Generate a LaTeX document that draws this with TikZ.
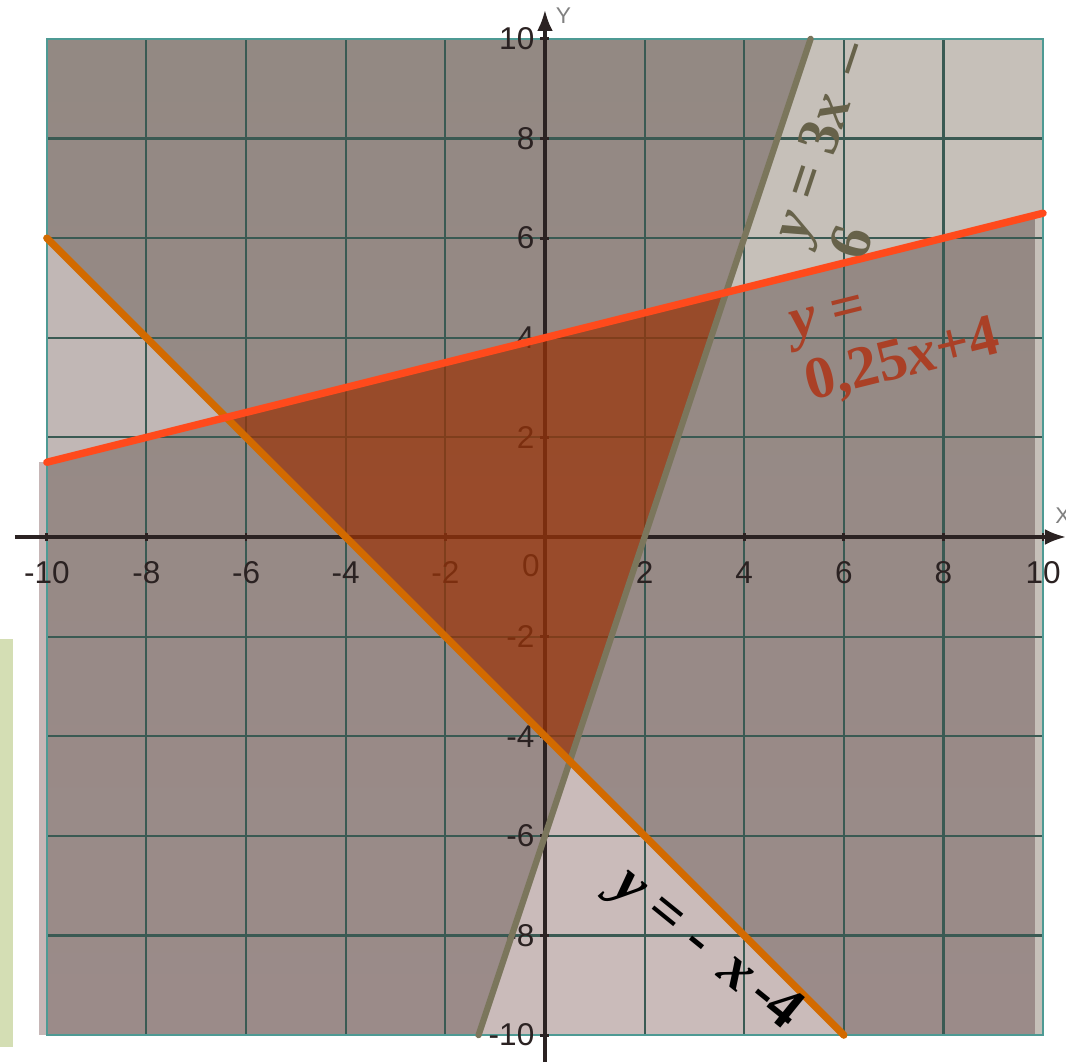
\documentclass[tikz,border=0pt]{standalone}
\usepackage{fontspec}
\setmainfont{Liberation Sans}
\newfontfamily\eqfont{Liberation Serif}
\usetikzlibrary{arrows.meta}
\definecolor{bgtop}{HTML}{938983}
\definecolor{bgbottom}{HTML}{9B8B89}
\definecolor{bglightA}{HTML}{C1B7B5}
\definecolor{bglightB}{HTML}{C6C0B9}
\definecolor{bglightC}{HTML}{CABBBA}
\definecolor{bgstrip}{HTML}{C6B6B6}
\definecolor{gridgreen}{HTML}{3A5A53}
\definecolor{bordercyan}{HTML}{4E9A94}
\definecolor{areared}{HTML}{9A3408}
\definecolor{redline}{HTML}{FF4A1C}
\definecolor{orangeline}{HTML}{D26A00}
\definecolor{grayline}{HTML}{7B765C}
\definecolor{graytext}{HTML}{67624A}
\definecolor{rusttext}{HTML}{AA4026}
\definecolor{ticktext}{HTML}{2B2222}
\definecolor{sidebar}{HTML}{D4DEB4}
\begin{document}
\begin{tikzpicture}[
  x=0.5cm, y=0.5cm,
  gridline/.style={draw=gridgreen, line width=0.6pt},
  ticklabel/.style={font=\fontsize{9}{10}\selectfont, text=ticktext, inner sep=0pt},
  axisname/.style={font=\fontsize{6.5}{7}\selectfont, text=gray, inner sep=0pt},
  eqlabel/.style={font=\eqfont\bfseries\fontsize{17}{18}\selectfont, align=left, inner sep=0pt},
  bound/.style={line width=#1, line cap=round},
  >={Latex[length=6pt,width=4.5pt]}
]
\useasboundingbox (-10.94,-10.56) rectangle (10.46,10.78);

% corners of the regions
\coordinate (RO) at (-6.4,2.4);
\coordinate (RG) at (40/11,54/11);
\coordinate (GO) at (0.5,-4.5);
\coordinate (Rstart) at (-10,1.5);
\coordinate (Rend) at (10,6.5);
\coordinate (Ostart) at (-10,6);
\coordinate (Oend) at (6,-10);
\coordinate (Gstart) at (-4/3,-10);
\coordinate (Gend) at (16/3,10);

% side bar and background
\fill[sidebar] (-10.94,-2.05) rectangle (-10.68,-10.24);
\shade[top color=bgtop, bottom color=bgbottom] (-10,-10) rectangle (10,10);
\fill[bgstrip] (-10.15,-10) rectangle (-10,1.5);
\fill[bglightA] (Rstart) -- (Ostart) -- (RO) -- cycle;
\fill[bglightB] (RG) -- (Gend) -- (10,10) -- (Rend) -- cycle;
\fill[bglightC] (GO) -- (Gstart) -- (Oend) -- cycle;
\fill[bglightB] (9.84,-10) rectangle (10,6.5);

% grid
\foreach \v in {-10,-8,...,10} {
  \draw[gridline] (\v,-10) -- (\v,10);
  \draw[gridline] (-10,\v) -- (10,\v);
}
\draw[bordercyan, line width=0.7pt] (-10,-10) rectangle (10,10);

% axes
\draw[->, line width=0.9pt, ticktext] (-10.64,0) -- (10.46,0);
\draw[->, line width=0.9pt, ticktext] (0,-10.54) -- (0,10.58);
\foreach \v in {-10,-8,...,10} {
  \draw[line width=0.8pt, ticktext] (\v,-0.09) -- (\v,0.09);
  \draw[line width=0.8pt, ticktext] (-0.09,\v) -- (0.09,\v);
}
\foreach \v in {-10,-8,-6,-4,-2,2,4,6,8,10} {
  \node[ticklabel] (xl\v) at (\v,-0.72) {\v};
  \node[ticklabel, anchor=east] (yl\v) at (-0.2,\v) {\v};
}
\node[ticklabel] (xl0) at (-0.28,-0.58) {0};
\node[axisname] (xname) at (10.40,0.42) {X};
\node[axisname] (yname) at (0.37,10.47) {Y};

% feasible triangle
\fill[areared, fill opacity=0.72] (RO) -- (RG) -- (GO) -- cycle;

% boundary lines
\draw[bound=1.8pt, grayline] (Gstart) -- (Gend);
\draw[bound=2.1pt, orangeline] (Ostart) -- (Oend);
\draw[bound=2.1pt, redline] (Rstart) -- (Rend);

% equations
\node[eqlabel, text=graytext, rotate=71.57] (eqG) at (6.10,7.77) {\textit{y} = 3\textit{x}\, –\\6};
\node[eqlabel, text=rusttext, rotate=14] (eqR) at (7.05,4.02) {\textit{y} =\\0,25\textit{x}+4};
\node[eqlabel, text=black, rotate=-39] (eqO) at (3.23,-8.31) {\textit{y} = -\, \textit{x}\,-4};
\end{tikzpicture}
\end{document}
